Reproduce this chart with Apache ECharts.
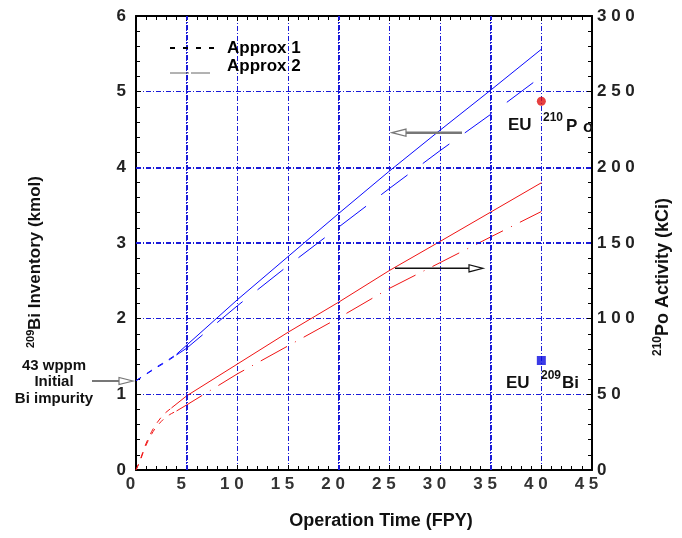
<!DOCTYPE html>
<html>
<head>
<meta charset="utf-8">
<script src="https://cdn.jsdelivr.net/npm/echarts@6/dist/echarts.min.js"></script>
<style>
  html, body { margin: 0; padding: 0; background: #fff; }
  #chart { width: 682px; height: 538px; }
</style>
</head>
<body>
<div id="chart"></div>
<script>
// Operation time (FPY) and inventories / activities
// 209Bi inventory (kmol), left axis
const biEarlyX = [0, 1, 2, 3, 4];
const biEarlyApprox1 = [1.18, 1.27, 1.36, 1.44, 1.53];
const biEarlyApprox2 = [1.18, 1.265, 1.35, 1.43, 1.52];
const biMainX = [4, 5, 10, 15, 20, 25, 30, 35, 40];
const biApprox1 = [1.53, 1.65, 2.25, 2.82, 3.39, 3.95, 4.49, 5.02, 5.56];
const biApprox2 = [1.52, 1.61, 2.17, 2.70, 3.21, 3.72, 4.22, 4.70, 5.20];

// 210Po activity (kCi), right axis
const poEarlyX1 = [0, 0.4, 0.9, 1.4, 1.9, 2.7, 3.5];
const poEarlyApprox1 = [0, 6.5, 16, 23.5, 29.5, 36.5, 41];
const poEarlyX2 = [0, 0.4, 0.9, 1.4, 1.9, 2.7, 3.3, 4];
const poEarlyApprox2 = [0, 6, 15, 22, 27.5, 33.5, 36.5, 39];
const poMainX1 = [3.5, 5, 10, 15, 20, 25, 30, 35, 40];
const poApprox1 = [41, 49, 70, 91, 110.9, 131.8, 151, 170.4, 189.8];
const poMainX2 = [4, 5, 10, 15, 20, 25, 30, 35, 40];
const poApprox2 = [39, 43, 63.5, 82, 100.5, 120, 137, 154, 170.8];

// EU reference points
const euBi = [40, 1.447];      // kmol
const euPo = [40, 243.7];      // kCi

// Axis ticks
const xTicks = { min: 0, max: 45, interval: 5 };
const yLeftTicks = { min: 0, max: 6, interval: 1 };
const yRightTicks = { min: 0, max: 300, interval: 50 };

const FONT = '"Liberation Sans", Arial, Helvetica, sans-serif';
const BLUE = '#0a0aff';
const RED = '#f01414';
const GRID_BLUE = '#1a1ad8';

const pairs = (xs, ys) => xs.map((x, i) => [x, ys[i]]);
const spaced = v => String(v).split('').join(' ');

const chart = echarts.init(document.getElementById('chart'), null, { renderer: 'canvas' });

// tick styling; sign of the length picks the side the ticks are drawn on
function ticks(inside, sign) {
  return {
    axisLine: { show: true, onZero: false, lineStyle: { color: '#000', width: 2 } },
    axisTick: { show: true, inside: inside, length: 5 * sign, lineStyle: { color: '#000', width: 1 } },
    minorTick: { show: true, splitNumber: 5, length: 4 * sign, lineStyle: { color: '#000', width: 1 } }
  };
}

const gridLine = () => ({ show: true, lineStyle: { color: GRID_BLUE, width: 1, type: [5, 2, 1, 2] } });

function lineSeries(name, data, color, type, yAxisIndex, smooth) {
  return {
    name, type: 'line', data, yAxisIndex, smooth: smooth || false,
    showSymbol: false, symbol: 'none', silent: true, animation: false,
    lineStyle: { color, width: 1, type }
  };
}

chart.setOption({
  animation: false,
  backgroundColor: '#fff',
  grid: { left: 136, right: 90, top: 16, bottom: 68, containLabel: false },
  xAxis: [
    Object.assign({
      type: 'value', position: 'bottom', min: xTicks.min, max: xTicks.max, interval: xTicks.interval,
      splitLine: gridLine(),
      axisLabel: {
        formatter: spaced, color: '#333', fontFamily: FONT, fontWeight: 'bold', fontSize: 17,
        margin: 6, padding: [0, 11, 0, 0]
      },
      name: 'Operation Time (FPY)', nameLocation: 'middle', nameGap: 42,
      nameTextStyle: { color: '#111', fontFamily: FONT, fontWeight: 'bold', fontSize: 18, padding: [0, 0, 0, 34] }
    }, ticks(false, -1)),
    Object.assign({
      type: 'value', position: 'top', min: xTicks.min, max: xTicks.max, interval: xTicks.interval,
      splitLine: { show: false }, axisLabel: { show: false }
    }, ticks(true, 1))
  ],
  yAxis: [
    Object.assign({
      type: 'value', position: 'left', min: yLeftTicks.min, max: yLeftTicks.max, interval: yLeftTicks.interval,
      splitLine: gridLine(),
      axisLabel: { color: '#222', fontFamily: FONT, fontWeight: 'bold', fontSize: 17, margin: 10 }
    }, ticks(true, 1)),
    Object.assign({
      type: 'value', position: 'right', min: yRightTicks.min, max: yRightTicks.max, interval: yRightTicks.interval,
      splitLine: { show: false },
      axisLabel: { formatter: spaced, color: '#222', fontFamily: FONT, fontWeight: 'bold', fontSize: 17, margin: 5 }
    }, ticks(false, -1))
  ],
  series: [
    // heavier grid lines
    {
      type: 'line', data: [], silent: true,
      markLine: {
        silent: true, symbol: 'none', label: { show: false },
        lineStyle: { color: GRID_BLUE, width: 2, type: [5, 2, 1, 2] },
        data: [{ xAxis: 5 }, { xAxis: 20 }, { xAxis: 35 }, { yAxis: 3 }, { yAxis: 4 }]
      }
    },
    lineSeries('Bi Approx 1 (start)', pairs(biEarlyX, biEarlyApprox1), BLUE, [6, 7], 0),
    lineSeries('Bi Approx 2 (start)', pairs(biEarlyX, biEarlyApprox2), BLUE, [6, 7], 0),
    lineSeries('Bi Approx 1', pairs(biMainX, biApprox1), BLUE, 'solid', 0),
    lineSeries('Bi Approx 2', pairs(biMainX, biApprox2), BLUE, [33, 19], 0),
    lineSeries('Po Approx 1 (start)', pairs(poEarlyX1, poEarlyApprox1), RED, [6, 7], 1, 0.3),
    lineSeries('Po Approx 2 (start)', pairs(poEarlyX2, poEarlyApprox2), RED, [6, 7], 1, 0.3),
    lineSeries('Po Approx 1', pairs(poMainX1, poApprox1), RED, 'solid', 1),
    lineSeries('Po Approx 2', pairs(poMainX2, poApprox2), RED, [30, 9, 1, 9], 1),
    {
      name: 'EU 210Po', type: 'scatter', yAxisIndex: 1, data: [euPo], symbol: 'circle', symbolSize: 9,
      itemStyle: { color: '#e01010' }, silent: true
    },
    {
      name: 'EU 209Bi', type: 'scatter', yAxisIndex: 0, data: [euBi], symbol: 'rect', symbolSize: 9,
      itemStyle: { color: '#0a0ae0' }, silent: true
    }
  ]
});

// Annotation layer: titles with superscripts, legend key, arrows
const bold = (size) => `bold ${size}px ${FONT}`;

function hollowArrow(x1, x2, y, color, width) {
  const dir = x2 > x1 ? 1 : -1;
  const head = 14;
  const base = x2 - dir * head;
  return [
    { type: 'line', shape: { x1, y1: y, x2: base, y2: y }, style: { stroke: color, lineWidth: width }, z: 50 },
    {
      type: 'polygon', shape: { points: [[x2, y], [base, y - 3.6], [base, y + 3.6]] },
      style: { fill: '#fff', stroke: color, lineWidth: 1.2 }, z: 50
    }
  ];
}

chart.setOption({
  graphic: [
    // left axis title
    {
      type: 'group', x: 36, y: 268, rotation: Math.PI / 2, z: 50,
      children: [
        { type: 'text', x: -80, y: 0, style: { text: '209', font: bold(11), fill: '#111', textVerticalAlign: 'bottom' } },
        { type: 'text', x: -62, y: 8, style: { text: 'Bi Inventory (kmol)', font: bold(17), fill: '#111', textVerticalAlign: 'bottom' } }
      ]
    },
    // right axis title
    {
      type: 'group', x: 664, y: 270, rotation: Math.PI / 2, z: 50,
      children: [
        { type: 'text', x: -86, y: 0, style: { text: '210', font: bold(12), fill: '#111', textVerticalAlign: 'bottom' } },
        { type: 'text', x: -66, y: 8, style: { text: 'Po Activity (kCi)', font: bold(18), fill: '#111', textVerticalAlign: 'bottom' } }
      ]
    },
    // legend key
    { type: 'line', shape: { x1: 170, y1: 48, x2: 214, y2: 48 }, style: { stroke: '#000', lineWidth: 2.2, lineDash: [5, 8] }, z: 50 },
    { type: 'text', x: 227, y: 48, style: { text: 'Approx 1', font: bold(17), fill: '#000', textVerticalAlign: 'middle' }, z: 50 },
    { type: 'line', shape: { x1: 170, y1: 73, x2: 212, y2: 73 }, style: { stroke: '#666', lineWidth: 1, lineDash: [19, 2] }, z: 50 },
    { type: 'text', x: 227, y: 66, style: { text: 'Approx 2', font: bold(17), fill: '#000', textVerticalAlign: 'middle' }, z: 50 },
    // initial impurity note
    {
      type: 'text', x: 54, y: 382, z: 50,
      style: {
        text: '43 wppm\nInitial\nBi impurity', font: bold(15), fill: '#111',
        textAlign: 'center', textVerticalAlign: 'middle', lineHeight: 16.5
      }
    },
    ...hollowArrow(92, 133, 381, '#777', 2),
    ...hollowArrow(462, 392, 132.7, '#777', 2.5),
    ...hollowArrow(395, 483, 268.3, '#111', 1.5),
    // EU labels
    { type: 'text', x: 508, y: 125, style: { text: 'EU', font: bold(17), fill: '#111', textVerticalAlign: 'middle' }, z: 50 },
    { type: 'text', x: 543, y: 118, style: { text: '210', font: bold(12), fill: '#111', textVerticalAlign: 'middle' }, z: 50 },
    { type: 'text', x: 566, y: 126, style: { text: 'P', font: bold(17), fill: '#111', textVerticalAlign: 'middle' }, z: 50 },
    { type: 'text', x: 583, y: 127, style: { text: 'o', font: bold(17), fill: '#111', textVerticalAlign: 'middle' }, z: 50 },
    { type: 'text', x: 506, y: 383, style: { text: 'EU', font: bold(17), fill: '#111', textVerticalAlign: 'middle' }, z: 50 },
    { type: 'text', x: 541, y: 376, style: { text: '209', font: bold(12), fill: '#111', textVerticalAlign: 'middle' }, z: 50 },
    { type: 'text', x: 562, y: 383, style: { text: 'Bi', font: bold(17), fill: '#111', textVerticalAlign: 'middle' }, z: 50 }
  ]
});
</script>
</body>
</html>
